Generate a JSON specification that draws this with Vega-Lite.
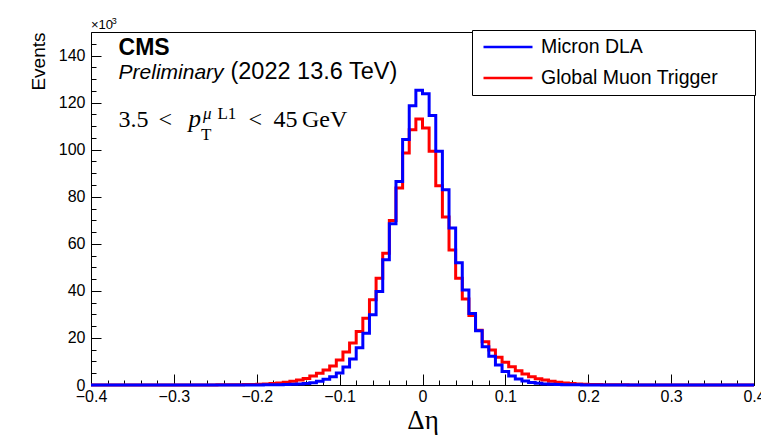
{
  "$schema": "https://vega.github.io/schema/vega-lite/v6.json",
  "width": 663,
  "height": 353,
  "autosize": {"type": "none"},
  "padding": {"left": 91, "top": 32, "right": 7, "bottom": 54},
  "background": "white",
  "config": {"view": {"stroke": "black", "strokeWidth": 1}, "font": "Liberation Sans", "axis": {"grid": false}},
  "datasets": {
    "hist": [
      {"x": -0.4, "Micron DLA": 0.005, "Global Muon Trigger": 0.01},
      {"x": -0.392, "Micron DLA": 0.005, "Global Muon Trigger": 0.01},
      {"x": -0.384, "Micron DLA": 0.005, "Global Muon Trigger": 0.01},
      {"x": -0.376, "Micron DLA": 0.005, "Global Muon Trigger": 0.01},
      {"x": -0.368, "Micron DLA": 0.005, "Global Muon Trigger": 0.01},
      {"x": -0.36, "Micron DLA": 0.008, "Global Muon Trigger": 0.015},
      {"x": -0.352, "Micron DLA": 0.008, "Global Muon Trigger": 0.015},
      {"x": -0.344, "Micron DLA": 0.008, "Global Muon Trigger": 0.015},
      {"x": -0.336, "Micron DLA": 0.008, "Global Muon Trigger": 0.015},
      {"x": -0.328, "Micron DLA": 0.008, "Global Muon Trigger": 0.015},
      {"x": -0.32, "Micron DLA": 0.012, "Global Muon Trigger": 0.02},
      {"x": -0.312, "Micron DLA": 0.012, "Global Muon Trigger": 0.02},
      {"x": -0.304, "Micron DLA": 0.012, "Global Muon Trigger": 0.02},
      {"x": -0.296, "Micron DLA": 0.012, "Global Muon Trigger": 0.02},
      {"x": -0.288, "Micron DLA": 0.012, "Global Muon Trigger": 0.02},
      {"x": -0.28, "Micron DLA": 0.015, "Global Muon Trigger": 0.025},
      {"x": -0.272, "Micron DLA": 0.015, "Global Muon Trigger": 0.03},
      {"x": -0.264, "Micron DLA": 0.015, "Global Muon Trigger": 0.04},
      {"x": -0.256, "Micron DLA": 0.015, "Global Muon Trigger": 0.05},
      {"x": -0.248, "Micron DLA": 0.015, "Global Muon Trigger": 0.06},
      {"x": -0.24, "Micron DLA": 0.02, "Global Muon Trigger": 0.08},
      {"x": -0.232, "Micron DLA": 0.025, "Global Muon Trigger": 0.1},
      {"x": -0.224, "Micron DLA": 0.03, "Global Muon Trigger": 0.13},
      {"x": -0.216, "Micron DLA": 0.035, "Global Muon Trigger": 0.18},
      {"x": -0.208, "Micron DLA": 0.04, "Global Muon Trigger": 0.25},
      {"x": -0.2, "Micron DLA": 0.05, "Global Muon Trigger": 0.34},
      {"x": -0.192, "Micron DLA": 0.07, "Global Muon Trigger": 0.47},
      {"x": -0.184, "Micron DLA": 0.09, "Global Muon Trigger": 0.65},
      {"x": -0.176, "Micron DLA": 0.13, "Global Muon Trigger": 0.9},
      {"x": -0.168, "Micron DLA": 0.19, "Global Muon Trigger": 1.2},
      {"x": -0.16, "Micron DLA": 0.28, "Global Muon Trigger": 1.6},
      {"x": -0.152, "Micron DLA": 0.42, "Global Muon Trigger": 2.1},
      {"x": -0.144, "Micron DLA": 0.65, "Global Muon Trigger": 2.8},
      {"x": -0.136, "Micron DLA": 1.0, "Global Muon Trigger": 3.8},
      {"x": -0.128, "Micron DLA": 1.6, "Global Muon Trigger": 5.0},
      {"x": -0.12, "Micron DLA": 2.4, "Global Muon Trigger": 6.4},
      {"x": -0.112, "Micron DLA": 3.5, "Global Muon Trigger": 8.1},
      {"x": -0.104, "Micron DLA": 5.1, "Global Muon Trigger": 10.6},
      {"x": -0.096, "Micron DLA": 7.6, "Global Muon Trigger": 14.0},
      {"x": -0.088, "Micron DLA": 11.1, "Global Muon Trigger": 17.9},
      {"x": -0.08, "Micron DLA": 15.8, "Global Muon Trigger": 22.7},
      {"x": -0.072, "Micron DLA": 22.0, "Global Muon Trigger": 28.4},
      {"x": -0.064, "Micron DLA": 29.8, "Global Muon Trigger": 36.2},
      {"x": -0.056, "Micron DLA": 39.7, "Global Muon Trigger": 45.4},
      {"x": -0.048, "Micron DLA": 53.2, "Global Muon Trigger": 56.0},
      {"x": -0.04, "Micron DLA": 68.5, "Global Muon Trigger": 69.9},
      {"x": -0.032, "Micron DLA": 86.5, "Global Muon Trigger": 83.7},
      {"x": -0.024, "Micron DLA": 104.3, "Global Muon Trigger": 98.6},
      {"x": -0.016, "Micron DLA": 118.7, "Global Muon Trigger": 108.5},
      {"x": -0.008, "Micron DLA": 125.2, "Global Muon Trigger": 113.0},
      {"x": 0, "Micron DLA": 123.8, "Global Muon Trigger": 109.2},
      {"x": 0.008, "Micron DLA": 114.5, "Global Muon Trigger": 99.3},
      {"x": 0.016, "Micron DLA": 99.3, "Global Muon Trigger": 84.7},
      {"x": 0.024, "Micron DLA": 83.0, "Global Muon Trigger": 71.4},
      {"x": 0.032, "Micron DLA": 66.7, "Global Muon Trigger": 57.4},
      {"x": 0.04, "Micron DLA": 52.0, "Global Muon Trigger": 45.4},
      {"x": 0.048, "Micron DLA": 40.4, "Global Muon Trigger": 36.5},
      {"x": 0.056, "Micron DLA": 30.4, "Global Muon Trigger": 29.5},
      {"x": 0.064, "Micron DLA": 23.1, "Global Muon Trigger": 23.3},
      {"x": 0.072, "Micron DLA": 16.3, "Global Muon Trigger": 18.4},
      {"x": 0.08, "Micron DLA": 12.2, "Global Muon Trigger": 14.9},
      {"x": 0.088, "Micron DLA": 8.5, "Global Muon Trigger": 11.8},
      {"x": 0.096, "Micron DLA": 5.7, "Global Muon Trigger": 9.7},
      {"x": 0.104, "Micron DLA": 3.8, "Global Muon Trigger": 7.8},
      {"x": 0.112, "Micron DLA": 2.6, "Global Muon Trigger": 6.1},
      {"x": 0.12, "Micron DLA": 1.7, "Global Muon Trigger": 4.7},
      {"x": 0.128, "Micron DLA": 1.1, "Global Muon Trigger": 3.5},
      {"x": 0.136, "Micron DLA": 0.7, "Global Muon Trigger": 2.7},
      {"x": 0.144, "Micron DLA": 0.45, "Global Muon Trigger": 2.1},
      {"x": 0.152, "Micron DLA": 0.3, "Global Muon Trigger": 1.6},
      {"x": 0.16, "Micron DLA": 0.2, "Global Muon Trigger": 1.2},
      {"x": 0.168, "Micron DLA": 0.14, "Global Muon Trigger": 0.9},
      {"x": 0.176, "Micron DLA": 0.1, "Global Muon Trigger": 0.65},
      {"x": 0.184, "Micron DLA": 0.07, "Global Muon Trigger": 0.47},
      {"x": 0.192, "Micron DLA": 0.05, "Global Muon Trigger": 0.34},
      {"x": 0.2, "Micron DLA": 0.04, "Global Muon Trigger": 0.25},
      {"x": 0.208, "Micron DLA": 0.035, "Global Muon Trigger": 0.18},
      {"x": 0.216, "Micron DLA": 0.03, "Global Muon Trigger": 0.13},
      {"x": 0.224, "Micron DLA": 0.025, "Global Muon Trigger": 0.1},
      {"x": 0.232, "Micron DLA": 0.02, "Global Muon Trigger": 0.08},
      {"x": 0.24, "Micron DLA": 0.015, "Global Muon Trigger": 0.06},
      {"x": 0.248, "Micron DLA": 0.015, "Global Muon Trigger": 0.05},
      {"x": 0.256, "Micron DLA": 0.015, "Global Muon Trigger": 0.04},
      {"x": 0.264, "Micron DLA": 0.015, "Global Muon Trigger": 0.03},
      {"x": 0.272, "Micron DLA": 0.015, "Global Muon Trigger": 0.025},
      {"x": 0.28, "Micron DLA": 0.012, "Global Muon Trigger": 0.02},
      {"x": 0.288, "Micron DLA": 0.012, "Global Muon Trigger": 0.02},
      {"x": 0.296, "Micron DLA": 0.012, "Global Muon Trigger": 0.02},
      {"x": 0.304, "Micron DLA": 0.012, "Global Muon Trigger": 0.02},
      {"x": 0.312, "Micron DLA": 0.012, "Global Muon Trigger": 0.02},
      {"x": 0.32, "Micron DLA": 0.008, "Global Muon Trigger": 0.015},
      {"x": 0.328, "Micron DLA": 0.008, "Global Muon Trigger": 0.015},
      {"x": 0.336, "Micron DLA": 0.008, "Global Muon Trigger": 0.015},
      {"x": 0.344, "Micron DLA": 0.008, "Global Muon Trigger": 0.015},
      {"x": 0.352, "Micron DLA": 0.008, "Global Muon Trigger": 0.015},
      {"x": 0.36, "Micron DLA": 0.005, "Global Muon Trigger": 0.01},
      {"x": 0.368, "Micron DLA": 0.005, "Global Muon Trigger": 0.01},
      {"x": 0.376, "Micron DLA": 0.005, "Global Muon Trigger": 0.01},
      {"x": 0.384, "Micron DLA": 0.005, "Global Muon Trigger": 0.01},
      {"x": 0.392, "Micron DLA": 0.005, "Global Muon Trigger": 0.01},
      {"x": 0.4, "Micron DLA": 0.005, "Global Muon Trigger": 0.01}
    ],
    "notes": [
      {"part": "sansbold", "text": "CMS", "x": -0.3667, "y": 140.2},
      {"part": "sansit", "text": "Preliminary", "x": -0.3667, "y": 130.0},
      {"part": "sans", "text": "(2022 13.6 TeV)", "x": -0.2317, "y": 130.0},
      {"part": "serif", "text": "3.5", "x": -0.3667, "y": 109.8},
      {"part": "serif", "text": "<", "x": -0.3185, "y": 109.8},
      {"part": "serif", "text": "<", "x": -0.21, "y": 109.8},
      {"part": "serif", "text": "45", "x": -0.1798, "y": 109.8},
      {"part": "serif", "text": "GeV", "x": -0.1455, "y": 109.8},
      {"part": "serifit", "text": "p", "x": -0.2825, "y": 109.8},
      {"part": "supit", "text": "μ", "x": -0.2648, "y": 113.0},
      {"part": "sup", "text": "L1", "x": -0.2474, "y": 113.0},
      {"part": "sup", "text": "T", "x": -0.2672, "y": 104.1},
      {"part": "small", "text": "×10", "x": -0.4, "y": 151.3},
      {"part": "tiny", "text": "3", "x": -0.3749, "y": 153.4}
    ]
  },
  "data": {"name": "hist"},
  "resolve": {"axis": {"x": "independent", "y": "independent"}},
  "layer": [
    {
      "transform": [
        {"fold": ["Global Muon Trigger", "Micron DLA"], "as": ["series", "events"]},
        {"filter": "datum.series == 'Global Muon Trigger'"}
      ],
      "mark": {"type": "line", "interpolate": "step-after", "strokeWidth": 3},
      "encoding": {
        "x": {
          "field": "x", "type": "quantitative",
          "scale": {"domain": [-0.4, 0.4], "nice": false, "zero": false},
          "axis": {
            "orient": "bottom", "values": [-0.4, -0.3, -0.2, -0.1, 0, 0.1, 0.2, 0.3, 0.4],
            "format": "~g", "tickSize": -11, "tickColor": "black", "tickWidth": 1,
            "domain": true, "domainColor": "black", "labelFontSize": 16, "labelColor": "black",
            "labelPadding": 14, "labelFlush": false, "labelOverlap": false, "grid": false,
            "title": "Δη", "titleFont": "Liberation Serif", "titleFontSize": 27, "titleFontWeight": "normal",
            "titleColor": "black", "titleBaseline": "alphabetic", "titleY": 43
          }
        },
        "y": {
          "field": "events", "type": "quantitative",
          "scale": {"domain": [0, 150], "nice": false, "zero": true},
          "axis": {
            "orient": "left", "values": [0, 20, 40, 60, 80, 100, 120, 140], "format": "d",
            "tickSize": -10, "tickColor": "black", "tickWidth": 1,
            "domain": true, "domainColor": "black", "labelFontSize": 16, "labelColor": "black",
            "labelPadding": 16, "labelFlush": false, "labelOverlap": false, "grid": false,
            "title": "Events", "titleFontSize": 19, "titleFontWeight": "normal", "titleColor": "black",
            "titleAngle": -90, "titleAlign": "right", "titleBaseline": "alphabetic", "titleX": -47, "titleY": 0
          }
        },
        "color": {
          "field": "series", "type": "nominal",
          "scale": {"domain": ["Micron DLA", "Global Muon Trigger"], "range": ["#0000ff", "#ff0000"]},
          "legend": {
            "orient": "none", "legendX": 381, "legendY": -2, "title": null,
            "symbolType": "stroke", "symbolSize": 2401, "symbolStrokeWidth": 2.5,
            "symbolOffset": 4, "labelOffset": 7, "clipHeight": 22, "rowPadding": 9,
            "padding": 6, "strokeColor": "black", "fillColor": "white",
            "labelFontSize": 19.5, "labelColor": "black", "labelLimit": 400,
            "labelExpr": "datum.label + '\u2800\u2800'"
          }
        }
      }
    },
    {
      "transform": [
        {"fold": ["Global Muon Trigger", "Micron DLA"], "as": ["series", "events"]},
        {"filter": "datum.series == 'Micron DLA'"}
      ],
      "mark": {"type": "line", "interpolate": "step-after", "strokeWidth": 3},
      "encoding": {
        "x": {
          "field": "x", "type": "quantitative",
          "axis": {
            "orient": "bottom",
            "values": [-0.38, -0.36, -0.34, -0.32, -0.28, -0.26, -0.24, -0.22, -0.18, -0.16, -0.14, -0.12, -0.08, -0.06, -0.04, -0.02, 0.02, 0.04, 0.06, 0.08, 0.12, 0.14, 0.16, 0.18, 0.22, 0.24, 0.26, 0.28, 0.32, 0.34, 0.36, 0.38],
            "tickSize": -5, "tickColor": "black", "tickWidth": 1, "labels": false, "domain": false,
            "title": null, "grid": false
          }
        },
        "y": {
          "field": "events", "type": "quantitative",
          "axis": {
            "orient": "left",
            "values": [5, 10, 15, 25, 30, 35, 45, 50, 55, 65, 70, 75, 85, 90, 95, 105, 110, 115, 125, 130, 135, 145],
            "tickSize": -5, "tickColor": "black", "tickWidth": 1, "labels": false, "domain": false,
            "title": null, "grid": false
          }
        },
        "color": {"field": "series", "type": "nominal"}
      }
    },
    {
      "data": {"name": "notes"},
      "transform": [{"filter": "datum.part == 'sansbold'"}],
      "mark": {"type": "text", "align": "left", "baseline": "alphabetic", "font": "Liberation Sans", "fontSize": 23, "fontWeight": "bold", "color": "black"},
      "encoding": {"x": {"field": "x", "type": "quantitative", "axis": null}, "y": {"field": "y", "type": "quantitative", "axis": null}, "text": {"field": "text"}}
    },
    {
      "data": {"name": "notes"},
      "transform": [{"filter": "datum.part == 'sansit'"}],
      "mark": {"type": "text", "align": "left", "baseline": "alphabetic", "font": "Liberation Sans", "fontSize": 21, "fontStyle": "italic", "color": "black"},
      "encoding": {"x": {"field": "x", "type": "quantitative", "axis": null}, "y": {"field": "y", "type": "quantitative", "axis": null}, "text": {"field": "text"}}
    },
    {
      "data": {"name": "notes"},
      "transform": [{"filter": "datum.part == 'sans'"}],
      "mark": {"type": "text", "align": "left", "baseline": "alphabetic", "font": "Liberation Sans", "fontSize": 23.5, "color": "black"},
      "encoding": {"x": {"field": "x", "type": "quantitative", "axis": null}, "y": {"field": "y", "type": "quantitative", "axis": null}, "text": {"field": "text"}}
    },
    {
      "data": {"name": "notes"},
      "transform": [{"filter": "datum.part == 'serif'"}],
      "mark": {"type": "text", "align": "left", "baseline": "alphabetic", "font": "Liberation Serif", "fontSize": 24, "color": "black"},
      "encoding": {"x": {"field": "x", "type": "quantitative", "axis": null}, "y": {"field": "y", "type": "quantitative", "axis": null}, "text": {"field": "text"}}
    },
    {
      "data": {"name": "notes"},
      "transform": [{"filter": "datum.part == 'serifit'"}],
      "mark": {"type": "text", "align": "left", "baseline": "alphabetic", "font": "Liberation Serif", "fontSize": 25, "fontStyle": "italic", "color": "black"},
      "encoding": {"x": {"field": "x", "type": "quantitative", "axis": null}, "y": {"field": "y", "type": "quantitative", "axis": null}, "text": {"field": "text"}}
    },
    {
      "data": {"name": "notes"},
      "transform": [{"filter": "datum.part == 'supit'"}],
      "mark": {"type": "text", "align": "left", "baseline": "alphabetic", "font": "Liberation Serif", "fontSize": 17, "fontStyle": "italic", "color": "black"},
      "encoding": {"x": {"field": "x", "type": "quantitative", "axis": null}, "y": {"field": "y", "type": "quantitative", "axis": null}, "text": {"field": "text"}}
    },
    {
      "data": {"name": "notes"},
      "transform": [{"filter": "datum.part == 'sup'"}],
      "mark": {"type": "text", "align": "left", "baseline": "alphabetic", "font": "Liberation Serif", "fontSize": 17, "color": "black"},
      "encoding": {"x": {"field": "x", "type": "quantitative", "axis": null}, "y": {"field": "y", "type": "quantitative", "axis": null}, "text": {"field": "text"}}
    },
    {
      "data": {"name": "notes"},
      "transform": [{"filter": "datum.part == 'small'"}],
      "mark": {"type": "text", "align": "left", "baseline": "alphabetic", "font": "Liberation Sans", "fontSize": 13, "color": "black"},
      "encoding": {"x": {"field": "x", "type": "quantitative", "axis": null}, "y": {"field": "y", "type": "quantitative", "axis": null}, "text": {"field": "text"}}
    },
    {
      "data": {"name": "notes"},
      "transform": [{"filter": "datum.part == 'tiny'"}],
      "mark": {"type": "text", "align": "left", "baseline": "alphabetic", "font": "Liberation Sans", "fontSize": 9, "color": "black"},
      "encoding": {"x": {"field": "x", "type": "quantitative", "axis": null}, "y": {"field": "y", "type": "quantitative", "axis": null}, "text": {"field": "text"}}
    }
  ]
}
